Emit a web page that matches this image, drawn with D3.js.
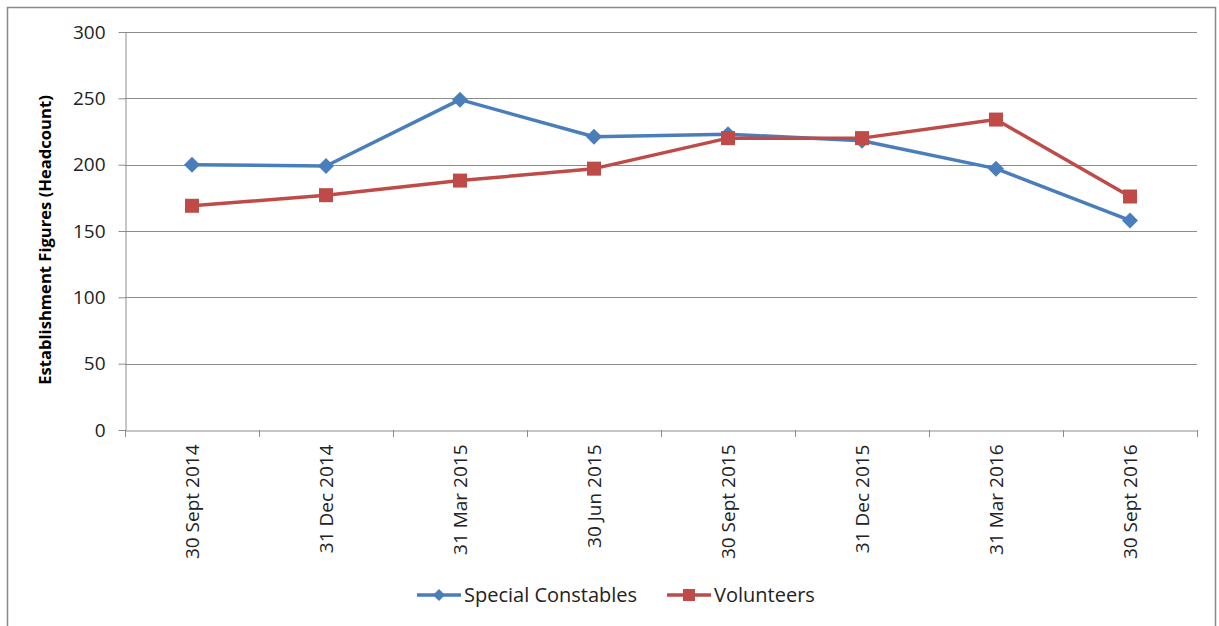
<!DOCTYPE html>
<html><head><meta charset="utf-8">
<script src="https://cdn.jsdelivr.net/npm/d3@7"></script>
<style>
html,body{margin:0;padding:0;background:#fff;}
svg{display:block;font-family:"Open Sans",sans-serif;}
</style></head><body>
<svg id="c" width="1219" height="626"></svg>
<script>
const categories = ["30 Sept 2014","31 Dec 2014","31 Mar 2015","30 Jun 2015","30 Sept 2015","31 Dec 2015","31 Mar 2016","30 Sept 2016"];
const specialConstables = [200,199,249,221,223,218,197,158];
const volunteers = [169,177,188,197,220,220,234,176];
const yTicks = [0,50,100,150,200,250,300];
const seriesNames = ["Special Constables","Volunteers"];
const colors = ["#4a7ebb","#be4b48"];
const FONT = "'Open Sans',sans-serif";
const FS = 19;

const svg = d3.select("#c");
svg.append("rect").attr("x",7.5).attr("y",7.5).attr("width",1208).attr("height",640)
  .attr("fill","#fff").attr("stroke","#898989").attr("stroke-width",1.5);

const L=125,R=1197,T=32,B=430;
const x = d3.scaleBand().domain(categories).range([L,R]);
const y = d3.scaleLinear().domain([0,300]).range([B,T]);

svg.append("g").selectAll("line").data(yTicks.filter(d=>d>0)).join("line")
  .attr("x1",L).attr("x2",R).attr("y1",d=>Math.round(y(d))+0.5).attr("y2",d=>Math.round(y(d))+0.5)
  .attr("stroke","#8c8c8c").attr("stroke-width",1);

const ya = svg.append("g").attr("transform",`translate(${L+0.5},0)`)
  .call(d3.axisLeft(y).tickValues(yTicks).tickSize(7).tickPadding(13).tickSizeOuter(0));
ya.select(".domain").attr("stroke","#8c8c8c");
ya.selectAll(".tick line").attr("stroke","#8c8c8c");
ya.selectAll(".tick text").attr("font-size",FS).attr("fill","#222").style("font-family",FONT);

const xa = svg.append("g").attr("transform",`translate(0,${B+0.5})`)
  .call(d3.axisBottom(x).tickSize(0).tickSizeOuter(0));
xa.select(".domain").attr("stroke","#8c8c8c");
xa.selectAll(".tick line").remove();
xa.selectAll(".tick text").attr("font-size",FS).attr("fill","#222")
  .attr("text-anchor","end").attr("transform","rotate(-90)")
  .attr("x",-14).attr("y",0).attr("dy","0.35em").style("font-family",FONT);
const bounds = categories.map(c=>x(c)).concat([R]);
svg.append("g").selectAll("line").data(bounds).join("line")
  .attr("x1",d=>Math.round(d)+0.5).attr("x2",d=>Math.round(d)+0.5)
  .attr("y1",B).attr("y2",B+7).attr("stroke","#8c8c8c");

svg.append("text").attr("transform",`translate(51,240) rotate(-90)`)
  .attr("text-anchor","middle").attr("font-size",16.6).attr("font-weight","bold")
  .attr("fill","#000").style("font-family",FONT).text("Establishment Figures (Headcount)");

const cx = d=>x(d)+x.bandwidth()/2;
const line = d3.line().x((d,i)=>cx(categories[i])).y(d=>y(d));
[specialConstables, volunteers].forEach((s,k)=>{
  svg.append("path").datum(s).attr("d",line).attr("fill","none")
    .attr("stroke",colors[k]).attr("stroke-width",3.5).attr("stroke-linejoin","round");
});
svg.append("g").selectAll("path").data(specialConstables).join("path")
  .attr("transform",(d,i)=>`translate(${cx(categories[i])},${y(d)})`)
  .attr("d","M0,-8L8,0L0,8L-8,0Z").attr("fill",colors[0]);
svg.append("g").selectAll("rect").data(volunteers).join("rect")
  .attr("x",(d,i)=>cx(categories[i])-7).attr("y",d=>y(d)-7)
  .attr("width",14).attr("height",14).attr("fill",colors[1]);

const lg = svg.append("g");
const items = [{x:417,name:seriesNames[0],c:colors[0],m:"d"},{x:667,name:seriesNames[1],c:colors[1],m:"s"}];
items.forEach(it=>{
  const ly=595;
  lg.append("line").attr("x1",it.x).attr("x2",it.x+44).attr("y1",ly).attr("y2",ly)
    .attr("stroke",it.c).attr("stroke-width",3.5);
  if(it.m==="d") lg.append("path").attr("transform",`translate(${it.x+22},${ly})`).attr("d","M0,-6L6,0L0,6L-6,0Z").attr("fill",it.c);
  else lg.append("rect").attr("x",it.x+16).attr("y",ly-6).attr("width",12).attr("height",12).attr("fill",it.c);
  lg.append("text").attr("x",it.x+47).attr("y",ly).attr("dy","0.35em").attr("font-size",20)
    .attr("fill","#222").style("font-family",FONT).text(it.name);
});
</script>
</body></html>
